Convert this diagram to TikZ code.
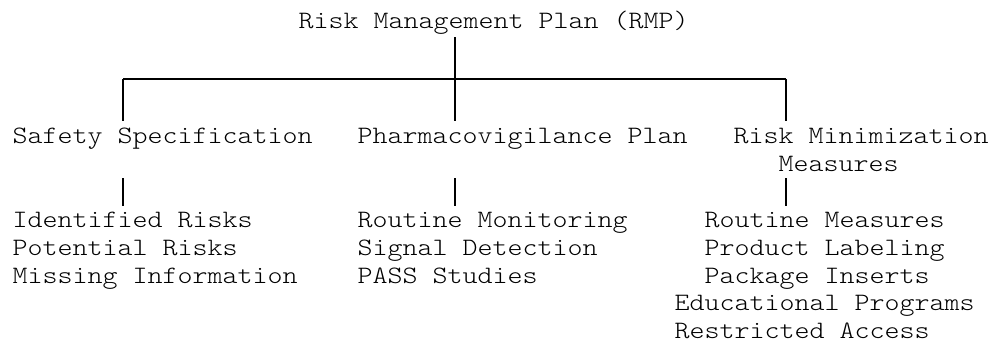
\documentclass[tikz,border=0pt]{standalone}
\usepackage{fontspec}
\setmonofont[FakeStretch=1.143]{Latin Modern Mono Light}
\begin{document}
\begin{tikzpicture}[x=1pt,y=-1pt,line width=1.4pt,
  txt/.style={font=\ttfamily\fontsize{25}{28}\selectfont,text=black,inner sep=0pt,anchor=base west}]
  \useasboundingbox (0,0) rectangle (992,343);
  % headings
  \node[txt] (rmp) at (298,28) {Risk Management Plan (RMP)};
  \node[txt] (ss) at (12,143) {Safety Specification};
  \node[txt] (pv) at (357,143) {Pharmacovigilance Plan};
  \node[txt] (rm) at (733,143) {Risk Minimization};
  \node[txt] (rmb) at (778,171) {Measures};
  % lists
  \foreach \t [count=\i] in {Identified Risks,Potential Risks,Missing Information}
    \node[txt] (ss\i) at (12,199+28*\i) {\t};
  \foreach \t [count=\i] in {Routine Monitoring,Signal Detection,PASS Studies}
    \node[txt] (pv\i) at (357,199+28*\i) {\t};
  \foreach \t [count=\i] in {Routine Measures,Product Labeling,Package Inserts}
    \node[txt] (rm\i) at (704,199+28*\i) {\t};
  \foreach \t [count=\i] in {Educational Programs,Restricted Access}
    \node[txt] (rme\i) at (674,282+28*\i) {\t};
  % bus
  \coordinate (bus) at (455,79);
  \coordinate (busL) at (123,79);
  \coordinate (busR) at (786,79);
  \draw ([yshift=-9pt]rmp.base -| bus) -- (bus);
  \draw (busL) -- (busR);
  \draw (busL) -- ([yshift=22pt]ss.base -| busL);
  \draw (bus) -- ([yshift=22pt]pv.base -| bus);
  \draw (busR) -- ([yshift=22pt]rm.base -| busR);
  % branches
  \draw ([yshift=-35pt]ss.base -| busL) -- ([yshift=21pt]ss1.base -| busL);
  \draw ([yshift=-35pt]pv.base -| bus) -- ([yshift=21pt]pv1.base -| bus);
  \draw ([yshift=-7pt]rmb.base -| busR) -- ([yshift=21pt]rm1.base -| busR);
\end{tikzpicture}
\end{document}
